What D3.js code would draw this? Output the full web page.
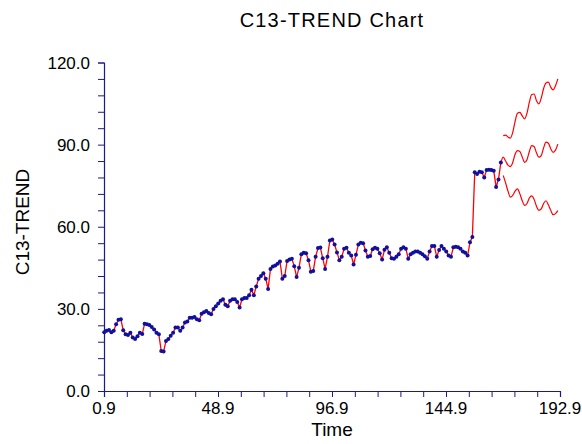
<!DOCTYPE html>
<html>
<head>
<meta charset="utf-8">
<script src="https://cdn.jsdelivr.net/npm/d3@7"></script>
<style>
  html, body { margin: 0; padding: 0; background: #fff; overflow: hidden; }
  svg { display: block; }
  text { font-family: "Liberation Sans", Arial, sans-serif; fill: #000; }
</style>
</head>
<body>
<svg width="582" height="444"></svg>
<script>
const titleText = 'C13-TREND Chart';
const xAxisLabelText = 'Time';
const yAxisLabelText = 'C13-TREND';

// observed series, one value per time step starting at t = 1
const startTime = 1;
const values = [
  21.5, 22, 22.3, 21.5, 22, 24.4, 26, 26.2, 22.2, 20.7,
  20.5, 21.3, 19.5, 19, 20, 21.3, 20.8, 24.6, 24.4, 24.1,
  23.4, 22.5, 21.3, 20.7, 14.6, 14.4, 18.3, 19, 20.2, 21.3,
  23.2, 23.2, 22, 23.2, 25, 25.4, 26.8, 26.8, 27, 26.2,
  25.8, 28.2, 28.8, 29.2, 28.5, 28, 30, 31, 32, 33,
  33.5, 31.5, 31, 33, 33.5, 33.5, 32.5, 30.5, 33.5, 34,
  34, 35, 37, 35, 38.2, 41, 42, 43, 41, 37.3,
  44.6, 45.5, 45.8, 46.5, 47.3, 41, 42, 47.5, 48, 48.3,
  45.6, 41.6, 45, 50, 50.5, 50.3, 47.8, 43.6, 43.8, 49,
  52.2, 52.4, 48.5, 44.6, 49, 55, 55.3, 53.5, 50.6, 47.8,
  49, 52, 52.3, 50.5, 49.5, 46.2, 49.8, 53.5, 54.2, 54,
  51.3, 49, 49.3, 51.8, 52.3, 52, 50.3, 48, 51.6, 52.5,
  50.5, 48.5, 48.3, 49, 50, 52, 52.5, 52, 48.3, 50,
  50.5, 51, 51, 50.5, 50, 49.2, 48.3, 51, 53, 53,
  49, 51.5, 53, 52, 51, 49.5, 49, 52.5, 52.7, 52.5,
  52, 51, 50.5, 49.5, 54.3, 56.3, 79.9, 79.3, 80.1, 79.9,
  78, 80.7, 80.8, 80.7, 80.5, 74.5, 77.3, 83.5
];

// forecasts with lower and upper limits, t = 169 .. 192
const forecastStart = 169;
const forecastMid = [
  85.4, 84, 82.5, 82, 83.5, 86.5, 87.8, 87.5, 85.5, 83.5,
  84.5, 87.5, 89.6, 89.3, 87, 85.4, 86, 88.8, 90.9, 90.5,
  88.5, 87.2, 88, 90.2
];
const forecastUpper = [
  93.3, 93.5, 92.8, 92.4, 94.5, 98.5, 101.5, 101.8, 100.5, 99.4,
  101.5, 105.5, 108.3, 108.5, 106, 104.9, 107, 110.5, 112.5, 112.8,
  111, 110, 111.5, 114
];
const forecastLower = [
  78.7, 76, 73, 70.8, 71.5, 73, 73.8, 72, 69.5, 67.8,
  68.5, 70.5, 71.3, 70, 67.5, 66, 66.5, 68.5, 69.5, 68,
  66, 64.4, 64.8, 65.9
];

const xMajorTicks = [0.9, 48.9, 96.9, 144.9, 192.9];
const yMajorTicks = [0, 30, 60, 90, 120];

const svg = d3.select('svg');
const margin = { top: 62.5, right: 22, bottom: 53, left: 104 };
const width = +svg.attr('width');
const height = +svg.attr('height');
const innerWidth = width - margin.left - margin.right;
const innerHeight = height - margin.top - margin.bottom;

const axisColor = '#1a1a8c';

const xScale = d3.scaleLinear().domain([0.9, 192.9]).range([0, innerWidth]);
const yScale = d3.scaleLinear().domain([0, 120]).range([innerHeight, 0]);

const g = svg.append('g')
  .attr('transform', `translate(${margin.left},${margin.top})`);

// every tick is a minor tick line; labels are drawn separately
const xTicks = d3.range(0, 21).map(i => 0.9 + i * 9.6);
const yTicks = d3.range(0, 21).map(i => i * 6);

const xAxis = d3.axisBottom(xScale)
  .tickValues(xTicks)
  .tickSize(6)
  .tickFormat('');

const yAxis = d3.axisLeft(yScale)
  .tickValues(yTicks)
  .tickSize(6)
  .tickFormat('');

const xAxisG = g.append('g')
  .attr('transform', `translate(0,${innerHeight})`)
  .call(xAxis);
const yAxisG = g.append('g').call(yAxis);

[xAxisG, yAxisG].forEach(a => {
  a.select('.domain').attr('stroke', axisColor).attr('stroke-width', 1.2);
  a.selectAll('.tick line').attr('stroke', axisColor);
  a.selectAll('.tick text').remove();
});

const fmt = d3.format('.1f');

g.selectAll('.x-label').data(xMajorTicks)
  .enter().append('text')
    .attr('class', 'x-label')
    .attr('x', d => xScale(d))
    .attr('y', innerHeight + 23)
    .attr('text-anchor', 'middle')
    .attr('font-size', 17)
    .text(fmt);

g.selectAll('.y-label').data(yMajorTicks)
  .enter().append('text')
    .attr('class', 'y-label')
    .attr('x', -14)
    .attr('y', d => yScale(d) + 6)
    .attr('text-anchor', 'end')
    .attr('font-size', 17)
    .text(fmt);

// observed data
const obs = values.map((v, i) => ({ t: startTime + i, v }));
const line = d3.line().x(d => xScale(d.t)).y(d => yScale(d.v));

g.append('path')
  .datum(obs)
  .attr('fill', 'none')
  .attr('stroke', '#ff0000')
  .attr('stroke-width', 1.3)
  .attr('d', line);

// forecast lines
const toPts = arr => arr.map((v, i) => ({ t: forecastStart + i, v }));
const midPts = [obs[obs.length - 1]].concat(toPts(forecastMid));
[midPts, toPts(forecastUpper), toPts(forecastLower)].forEach(pts => {
  g.append('path')
    .datum(pts)
    .attr('fill', 'none')
    .attr('stroke', '#ff0000')
    .attr('stroke-width', 1.2)
    .attr('d', line.curve(d3.curveMonotoneX));
});

g.selectAll('circle').data(obs)
  .enter().append('circle')
    .attr('cx', d => xScale(d.t))
    .attr('cy', d => yScale(d.v))
    .attr('r', 2)
    .attr('fill', '#1010a0');

svg.append('text')
  .attr('x', 332)
  .attr('y', 27)
  .attr('text-anchor', 'middle')
  .attr('font-size', 20)
  .attr('letter-spacing', 1.2)
  .text(titleText);

svg.append('text')
  .attr('x', margin.left + innerWidth / 2)
  .attr('y', 436)
  .attr('text-anchor', 'middle')
  .attr('font-size', 19)
  .text(xAxisLabelText);

svg.append('text')
  .attr('transform', `translate(29,222) rotate(-90)`)
  .attr('text-anchor', 'middle')
  .attr('font-size', 19)
  .text(yAxisLabelText);
</script>
</body>
</html>
